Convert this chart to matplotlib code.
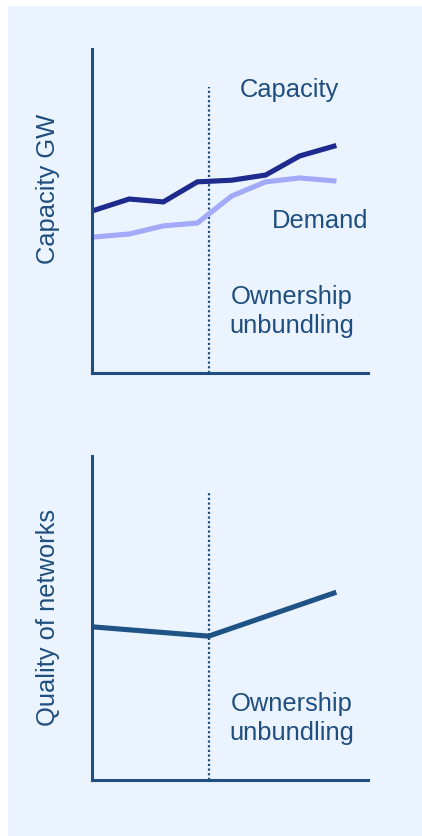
import matplotlib
matplotlib.use("Agg")
import matplotlib.pyplot as plt
from matplotlib.patches import Rectangle

plt.rcParams['font.family'] = ['Liberation Sans', 'DejaVu Sans']

# Data (arbitrary units)
periods = [0, 1, 2, 3, 4, 5, 6, 7]
capacity = [50.3, 53.7, 52.8, 59.0, 59.5, 61.1, 67.0, 70.0]
demand = [42.0, 42.9, 45.4, 46.3, 54.6, 59.0, 60.2, 59.3]
unbundling_x = 3.33
quality_x = [0, 3.33, 7]
quality = [47.2, 44.4, 57.7]

TXT = '#1F4E7F'
AX = '#1F4E7F'
CAP_C = '#1E2A8E'
DEM_C = '#A2AAF9'
QUAL_C = '#1F5285'
PANEL = '#EBF4FE'

W, H = 422, 837
fig = plt.figure(figsize=(W / 100, H / 100), dpi=100, facecolor='white')
fig.patches.append(Rectangle((8 / W, 0), 1 - 8 / W, 1 - 7 / H, transform=fig.transFigure,
                             facecolor=PANEL, edgecolor='none', zorder=-10))

def make_ax(top_px, bottom_px):
    ax = fig.add_axes([92 / W, 1 - bottom_px / H, (368 - 92) / W, (bottom_px - top_px) / H])
    ax.set_facecolor('none')
    for s in ['top', 'right']:
        ax.spines[s].set_visible(False)
    for s in ['left', 'bottom']:
        ax.spines[s].set_color(AX)
        ax.spines[s].set_linewidth(2.2)
    ax.set_xticks([])
    ax.set_yticks([])
    ax.set_xlim(-0.09, 8.0)
    ax.set_ylim(0, 100)
    return ax

ax1 = make_ax(50, 374)
ax1.axvline(unbundling_x, ymin=0, ymax=0.883, color=AX, lw=1.6, ls=(0, (1, 1.1)))
ax1.plot(periods, demand, color=DEM_C, lw=3.7, solid_joinstyle='miter')
ax1.plot(periods, capacity, color=CAP_C, lw=3.7, solid_joinstyle='miter')
fs = 18.4
ax1.text(0.714, 0.877, 'Capacity', transform=ax1.transAxes, ha='center', va='center', fontsize=fs, color=TXT)
ax1.text(0.826, 0.472, 'Demand', transform=ax1.transAxes, ha='center', va='center', fontsize=fs, color=TXT)
ax1.text(0.725, 0.194, 'Ownership\nunbundling', transform=ax1.transAxes, ha='center', va='center',
         fontsize=fs, color=TXT, linespacing=1.25)

ax2 = make_ax(457, 781)
ax2.axvline(unbundling_x, ymin=0, ymax=0.886, color=AX, lw=1.6, ls=(0, (1, 1.1)))
ax2.plot(quality_x, quality, color=QUAL_C, lw=3.7, solid_joinstyle='miter')
ax2.text(0.725, 0.194, 'Ownership\nunbundling', transform=ax2.transAxes, ha='center', va='center',
         fontsize=fs, color=TXT, linespacing=1.25)

fig.text(48 / W, 1 - 189 / H, 'Capacity GW', rotation=90, ha='center', va='center', fontsize=fs, color=TXT)
fig.text(48 / W, 1 - 617 / H, 'Quality of networks', rotation=90, ha='center', va='center', fontsize=fs, color=TXT)

fig.savefig('out.png', dpi=100, facecolor='white')
